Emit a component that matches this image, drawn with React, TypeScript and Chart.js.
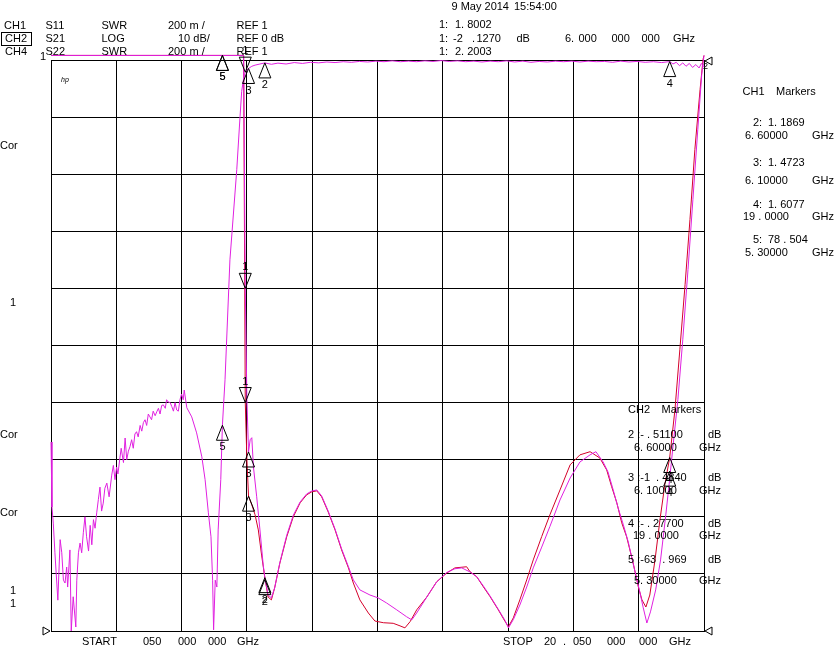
import React, { useEffect, useRef } from "react";
import { Chart, registerables } from "chart.js";

Chart.register(...registerables);

// ---------- axes ----------
const freqStart = 0.05;
const freqStop = 20.05;
const freqDivisions = [0.05, 2.05, 4.05, 6.05, 8.05, 10.05, 12.05, 14.05, 16.05, 18.05, 20.05];
const dbTop = 0;
const dbBottom = -100;
const swrBottom = 1;
const swrTop = 3;
const swrClamp = 3.016; // trace drawn just above the top line when off-scale

// ---------- CH2 S21 (dB) ----------
const s21Freq = [
  0.05, 0.08, 0.12, 0.17, 0.26, 0.33, 0.38, 0.43, 0.48, 0.53, 0.56, 0.63, 0.67, 0.73, 0.81, 0.84,
  0.89, 0.94, 0.99, 1.04, 1.09, 1.14, 1.2, 1.25, 1.3, 1.35, 1.4, 1.45, 1.5, 1.55, 1.6, 1.65, 1.7,
  1.76, 1.83, 1.91, 1.96, 2.01, 2.06, 2.1, 2.16, 2.2, 2.27, 2.32, 2.37, 2.42, 2.47, 2.52, 2.57,
  2.62, 2.67, 2.72, 2.78, 2.83, 2.88, 2.93, 2.98, 3.03, 3.08, 3.13, 3.18, 3.24, 3.29, 3.34, 3.39,
  3.44, 3.49, 3.55, 3.59, 3.64, 3.7, 3.75, 3.8, 3.85, 3.9, 3.95, 4.0, 4.05, 4.1, 4.13, 4.21, 4.36,
  4.51, 4.67, 4.77, 4.87, 4.95, 5.0, 5.03, 5.08, 5.13, 5.17, 5.25, 5.3, 5.38, 5.53, 5.74, 5.84,
  5.89, 5.95, 6.0, 6.05, 6.1, 6.2, 6.3, 6.45, 6.6, 6.8, 7.0, 7.25, 7.5, 7.75, 8.0, 8.25, 8.5, 8.75,
  9.0, 9.25, 9.5, 9.75, 10.0, 10.25, 10.5, 10.75, 11.0, 11.25, 11.5, 11.75, 12.0, 12.25, 12.5,
  12.75, 13.0, 13.25, 13.5, 13.75, 14.0, 14.25, 14.5, 14.75, 15.0, 15.25, 15.5, 15.75, 16.0,
  16.25, 16.5, 16.75, 17.0, 17.25, 17.5, 17.75, 18.0, 18.25, 18.5, 18.75, 19.0, 19.1, 19.2, 19.3,
  19.4, 19.5, 19.6, 19.7, 19.8, 19.9, 19.97, 20.05,
];
const s21Db = [
  -66.9, -78.3, -81.1, -86.3, -94.6, -84.0, -86.3, -91.1, -91.6, -88.8, -92.3, -85.8, -100, -94.0, -99.3, -91.1,
  -86.3, -84.6, -86.3, -82.8, -80.0, -83.5, -86.0, -81.5, -84.9, -80.5, -82.0, -79.3, -77.0, -74.8, -79.0, -77.6, -75.0,
  -74.1, -76.5, -72.7, -71.0, -73.5, -71.3, -72.5, -69.7, -68.0, -70.5, -66.2, -70.0, -68.5, -67.7, -66.5, -68.0,
  -65.5, -65.1, -66.0, -64.0, -65.0, -63.5, -63.0, -64.0, -62.0, -62.5, -63.0, -61.5, -62.3, -61.6, -61.0, -62.0,
  -60.5, -60.4, -61.0, -59.5, -59.9, -60.0, -60.7, -61.5, -60.0, -61.3, -61.5, -59.5, -58.5, -59.5, -57.8, -60.9, -62.5,
  -65.3, -69.5, -73.5, -79.3, -83.5, -91.1, -99.8, -91.1, -92.3, -82.3, -73.5, -63.969, -56.0, -35.0, -19.2, -9.9,
  -5.5, -3.2, -2.127, -1.75, -1.484, -1.1, -0.9, -0.7, -0.511, -0.75, -0.55, -0.7, -0.45, -0.6, -0.4, -0.5, -0.35, -0.45,
  -0.3, -0.4, -0.25, -0.35, -0.2, -0.3, -0.15, -0.3, -0.2, -0.3, -0.15, -0.25, -0.1, -0.25, -0.15,
  -0.3, -0.2, -0.35, -0.2, -0.3, -0.15, -0.35, -0.2, -0.4, -0.25, -0.35, -0.2, -0.3, -0.2,
  -0.35, -0.2, -0.3, -0.25, -0.4, -0.2, -0.35, -0.25, -0.4, -0.3, -0.45, -0.277, -0.7, -0.4, -1.0,
  -0.5, -1.1, -0.6, -1.3, -0.8, -1.4, -0.6, -1.2,
];

// ---------- CH1 S11 (SWR) ----------
const s11Freq = [
  0.05, 5.95, 6.0, 6.05, 6.1, 6.2, 6.3, 6.4, 6.5, 6.6, 6.7, 6.8, 6.9, 7.06, 7.27, 7.47, 7.68, 7.88,
  8.03, 8.19, 8.34, 8.54, 8.75, 8.95, 9.16, 9.31, 9.51, 9.77, 9.97, 10.23, 10.53, 10.74, 10.89,
  11.05, 11.25, 11.56, 11.86, 12.17, 12.42, 12.78, 12.88, 13.09, 13.29, 13.5, 13.75, 13.96, 14.06,
  14.21, 14.41, 14.62, 14.82, 15.08, 15.33, 15.64, 15.95, 16.25, 16.56, 16.86, 17.07, 17.22,
  17.38, 17.53, 17.68, 17.88, 18.04, 18.15, 18.27, 18.39, 18.55, 18.7, 18.85, 19.0, 19.16,
  19.31, 19.47, 19.62, 19.77, 19.93, 20.02, 20.05,
];
const s11Swr = [
  3.016, 3.016, 1.8002, 1.6, 1.4723, 1.442, 1.407, 1.354, 1.266, 1.1869, 1.119, 1.109, 1.151, 1.238, 1.33, 1.4, 1.449, 1.477,
  1.487, 1.491, 1.47, 1.417, 1.354, 1.284, 1.221, 1.168, 1.109, 1.063, 1.035, 1.029, 1.027, 1.018, 1.011,
  1.033, 1.074, 1.119, 1.172, 1.203, 1.221, 1.225, 1.208, 1.19, 1.155, 1.12, 1.074, 1.033, 1.015,
  1.046, 1.109, 1.179, 1.249, 1.331, 1.407, 1.494, 1.582, 1.617, 1.628, 1.606, 1.564, 1.506,
  1.449, 1.379, 1.33, 1.238, 1.154, 1.109, 1.084, 1.126, 1.249, 1.389, 1.512, 1.6077, 1.775,
  1.985, 2.213, 2.441, 2.686, 2.897, 3.002, 3.016,
];

// ---------- CH4 S22 (SWR) ----------
const s22Freq = [
  0.05, 5.95, 6.0, 6.05, 6.1, 6.15, 6.2, 6.25, 6.35, 6.45, 6.55, 6.6, 6.7, 6.8, 6.9, 7.06, 7.27,
  7.47, 7.68, 7.88, 8.03, 8.19, 8.34, 8.54, 8.75, 8.95, 9.16, 9.31, 9.51, 9.82, 10.07, 10.33,
  10.64, 10.94, 11.1, 11.25, 11.56, 11.86, 12.17, 12.42, 12.63, 12.88, 13.09, 13.29, 13.5, 13.75,
  13.96, 14.06, 14.21, 14.41, 14.62, 14.82, 15.08, 15.33, 15.64, 15.95, 16.25, 16.56, 16.74,
  16.96, 17.11, 17.27, 17.42, 17.58, 17.73, 17.91, 18.07, 18.19, 18.3, 18.41, 18.57, 18.72,
  18.88, 18.98, 19.09, 19.25, 19.4, 19.56, 19.71, 19.86, 19.98, 20.05,
];
const s22Swr = [
  3.016, 3.016, 2.2003, 1.81, 1.627, 1.67, 1.677, 1.575, 1.47, 1.354, 1.231, 1.186, 1.126, 1.116, 1.151, 1.24, 1.335,
  1.405, 1.452, 1.48, 1.49, 1.494, 1.473, 1.42, 1.357, 1.288, 1.225, 1.179, 1.144, 1.126, 1.116, 1.098,
  1.074, 1.05, 1.039, 1.063, 1.119, 1.172, 1.205, 1.218, 1.221, 1.207, 1.19, 1.158, 1.122, 1.076,
  1.036, 1.011, 1.04, 1.091, 1.154, 1.221, 1.294, 1.366, 1.459, 1.536, 1.592, 1.617, 1.628,
  1.592, 1.557, 1.494, 1.431, 1.372, 1.312, 1.221, 1.144, 1.081, 1.028, 1.067, 1.144, 1.249,
  1.407, 1.512, 1.635, 1.81, 2.02, 2.266, 2.511, 2.756, 2.949, 3.016,
];

// ---------- markers 1..5 ----------
const markerFreq = [6.0, 6.6, 6.1, 19.0, 5.3];
const s11MarkerSwr = [1.8002, 1.1869, 1.4723, 1.6077, 78.504];
const s21MarkerDb = [-2.127, -0.511, -1.484, -0.277, -63.969];
const s22MarkerSwr = [2.2003, 1.18, 1.627, 1.56, 40.0];

const MAGENTA = "#e020e0";
const RED = "#d4002a";
const FONT = '11px "Liberation Sans", Arial, sans-serif';

const pts = (xs: number[], ys: number[]) => xs.map((x, i) => ({ x, y: ys[i] }));

type Txt = [string, number, number];
const texts: Txt[] = [
  ["9 May 2014", 451.5, 7],
  ["15:54:00", 514, 7],
  ["CH1", 4, 25.5], ["S11", 45.5, 25.5], ["SWR", 101.5, 25.5], ["200 m /", 168, 25.5], ["REF 1", 236.5, 25.5],
  ["CH2", 5, 39], ["S21", 45.5, 39], ["LOG", 101.5, 39], ["10 dB/", 178, 39], ["REF 0 dB", 236.5, 39],
  ["CH4", 5, 52], ["S22", 45.5, 52], ["SWR", 101.5, 52], ["200 m /", 168, 52], ["REF 1", 236.5, 52],
  ["1", 40, 57],
  ["1:", 439, 25], ["1. 8002", 455, 25],
  ["1:", 439, 38.5], ["-2", 453, 38.5], [".", 472, 38.5], ["1270", 476.5, 38.5], ["dB", 516.5, 38.5],
  ["6.", 565, 38.5], ["000", 578.5, 38.5], ["000", 611.5, 38.5], ["000", 641.5, 38.5], ["GHz", 673, 38.5],
  ["1:", 439, 51.5], ["2. 2003", 455, 51.5],
  ["CH1", 742.5, 92], ["Markers", 776, 92],
  ["2:", 753, 123], ["1. 1869", 768, 123], ["6. 60000", 745, 136], ["GHz", 812, 136],
  ["3:", 753, 163], ["1. 4723", 768, 163], ["6. 10000", 745, 181], ["GHz", 812, 181],
  ["4:", 753, 205], ["1. 6077", 768, 205], ["19 . 0000", 743, 217], ["GHz", 812, 217],
  ["5:", 753, 240], ["78 . 504", 768, 240], ["5. 30000", 745, 253], ["GHz", 812, 253],
  ["CH2", 628, 410], ["Markers", 661.5, 410],
  ["2 :- . 51100", 628, 434.5], ["dB", 708, 434.5], ["6. 60000", 634, 448], ["GHz", 699, 448],
  ["3 :-1  . 4840", 628, 478], ["dB", 708, 478], ["6. 10000", 634, 491], ["GHz", 699, 491],
  ["4 :- . 27700", 628, 523.5], ["dB", 708, 523.5], ["19 . 0000", 633, 536], ["GHz", 699, 536],
  ["5 :-63  . 969", 628, 559.5], ["dB", 708, 559.5], ["5. 30000", 634, 581], ["GHz", 699, 581],
  ["Cor", 0, 146], ["1", 10, 303], ["Cor", 0, 435], ["Cor", 0, 513], ["1", 10, 591], ["1", 10, 604],
  ["START", 82, 642], ["050", 143, 642], ["000", 178, 642], ["000", 208, 642], ["GHz", 237, 642],
  ["STOP", 503, 642], ["20", 544, 642], [".", 563, 642], ["050", 573, 642], ["000", 607, 642], ["000", 639, 642], ["GHz", 669, 642],
];

const overlay = {
  id: "vnaOverlay",
  afterDatasetsDraw(chart: any) {
    const ctx = chart.ctx;
    const xs = chart.scales.x;
    const yDb = chart.scales.y;
    const ySwr = chart.scales.swr;
    ctx.save();
    ctx.strokeStyle = "#000";
    ctx.fillStyle = "#000";
    ctx.lineWidth = 1;
    ctx.font = FONT;
    ctx.textBaseline = "middle";
    ctx.textAlign = "left";
    const tri = (x: number, y: number, up: boolean, label: string) => {
      const d = up ? 15 : -15;
      ctx.beginPath();
      ctx.moveTo(x, y);
      ctx.lineTo(x - 6, y + d);
      ctx.lineTo(x + 6, y + d);
      ctx.closePath();
      ctx.stroke();
      ctx.fillText(label, x - 3, up ? y + 22 : y - 21);
    };
    markerFreq.forEach((f, i) => {
      const px = xs.getPixelForValue(f);
      const up = i !== 0;
      const lab = String(i + 1);
      tri(px, ySwr.getPixelForValue(Math.min(s11MarkerSwr[i], swrClamp)), up, lab);
      tri(px, ySwr.getPixelForValue(Math.min(s22MarkerSwr[i], swrClamp)), up, lab);
      tri(px, yDb.getPixelForValue(s21MarkerDb[i]), up, lab);
    });
    ctx.restore();
  },
  afterDraw(chart: any) {
    const ctx = chart.ctx;
    const a = chart.chartArea;
    ctx.save();
    ctx.fillStyle = "#000";
    ctx.strokeStyle = "#000";
    ctx.lineWidth = 1;
    ctx.font = FONT;
    ctx.textBaseline = "middle";
    ctx.textAlign = "left";
    texts.forEach(([t, x, y]) => ctx.fillText(t, x, y));
    ctx.strokeRect(1.5, 32.5, 30, 13);
    // reference position indicators
    const left = a.left, right = a.right, bottom = a.bottom, top = a.top;
    ctx.beginPath();
    ctx.moveTo(left - 8, bottom - 4);
    ctx.lineTo(left - 1, bottom);
    ctx.lineTo(left - 8, bottom + 4);
    ctx.closePath();
    ctx.stroke();
    ctx.beginPath();
    ctx.moveTo(right + 8, bottom - 4);
    ctx.lineTo(right + 1, bottom);
    ctx.lineTo(right + 8, bottom + 4);
    ctx.closePath();
    ctx.stroke();
    ctx.beginPath();
    ctx.moveTo(right + 8, top - 3);
    ctx.lineTo(right + 1, top + 1);
    ctx.lineTo(right + 8, top + 5);
    ctx.closePath();
    ctx.stroke();
    ctx.font = '9px "Liberation Sans", Arial, sans-serif';
    ctx.fillText("2", right - 1, top + 7);
    ctx.font = 'italic 7px "Liberation Sans", Arial, sans-serif';
    ctx.fillText("hp", left + 10, top + 20);
    ctx.restore();
  },
};

export default function App() {
  const ref = useRef<HTMLCanvasElement | null>(null);
  useEffect(() => {
    if (!ref.current) return;
    const chart = new Chart(ref.current, {
      type: "line",
      data: {
        datasets: [
          {
            label: "S21",
            data: pts(s21Freq, s21Db),
            yAxisID: "y",
            borderColor: MAGENTA,
            borderWidth: 1,
            pointRadius: 0,
            tension: 0,
            clip: false as any,
          },
          {
            label: "S22",
            data: pts(s22Freq, s22Swr),
            yAxisID: "swr",
            borderColor: MAGENTA,
            borderWidth: 1,
            pointRadius: 0,
            tension: 0,
            clip: false as any,
          },
          {
            label: "S11",
            data: pts(s11Freq, s11Swr),
            yAxisID: "swr",
            borderColor: RED,
            borderWidth: 1,
            pointRadius: 0,
            tension: 0,
            clip: false as any,
          },
        ],
      },
      options: {
        responsive: false,
        animation: false,
        devicePixelRatio: 1,
        layout: { padding: { left: 51, right: 132, top: 60, bottom: 15 } },
        plugins: { legend: { display: false }, tooltip: { enabled: false } },
        scales: {
          x: {
            type: "linear",
            min: freqStart,
            max: freqStop,
            afterBuildTicks: (scale: any) => {
              scale.ticks = freqDivisions.map((v) => ({ value: v }));
            },
            ticks: { display: false },
            grid: { color: "#000", lineWidth: 1, drawTicks: false },
            border: { display: true, color: "#000", width: 1 },
          },
          y: {
            type: "linear",
            min: dbBottom,
            max: dbTop,
            ticks: { display: false, stepSize: 10 },
            grid: { color: "#000", lineWidth: 1, drawTicks: false },
            border: { display: true, color: "#000", width: 1 },
          },
          swr: {
            type: "linear",
            display: false,
            min: swrBottom,
            max: swrTop,
          },
        },
      },
      plugins: [overlay],
    });
    return () => chart.destroy();
  }, []);
  return (
    <div style={{ position: "fixed", left: 0, top: 0, width: 836, height: 646, background: "#fff" }}>
      <canvas ref={ref} width={836} height={646} style={{ width: 836, height: 646, display: "block" }} />
    </div>
  );
}
